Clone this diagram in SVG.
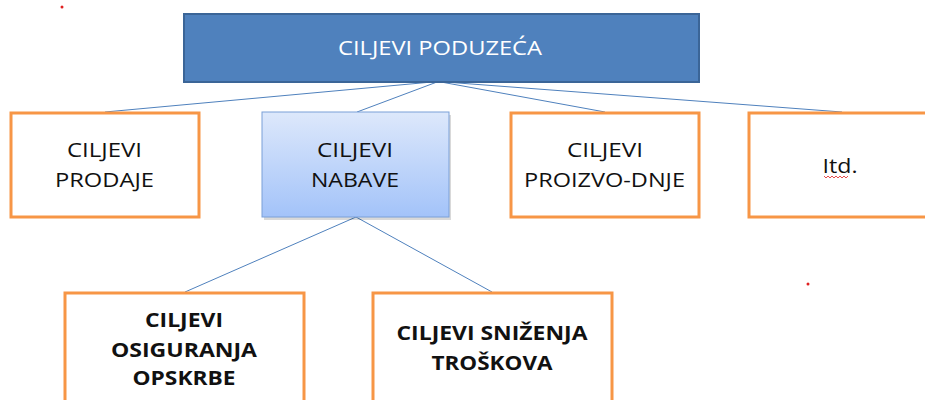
<svg xmlns="http://www.w3.org/2000/svg" width="925" height="400" viewBox="0 0 925 400">
<style>
.t{font-family:"Open Sans","Liberation Sans",sans-serif;font-size:20px;fill:#111;text-anchor:middle}
.b{font-weight:bold}
.w{fill:#fff}
.ob{fill:#fff;stroke:#f79646;stroke-width:3}
.c{stroke:#4f81bd;stroke-width:1;fill:none}
</style>
<defs>
<linearGradient id="g" x1="0" y1="0" x2="0" y2="1">
<stop offset="0" stop-color="#dde8fb"/>
<stop offset="1" stop-color="#a3c3f9"/>
</linearGradient>
</defs>
<rect width="925" height="400" fill="#fff"/>
<g id="connectors">
<line class="c" x1="432" y1="82" x2="105" y2="112"/>
<line class="c" x1="437" y1="82" x2="357" y2="112"/>
<line class="c" x1="441" y1="82" x2="605" y2="112"/>
<line class="c" x1="445" y1="82" x2="842" y2="112"/>
<line class="c" x1="356" y1="217" x2="185" y2="292"/>
<line class="c" x1="356" y1="217" x2="492" y2="292"/>
</g>
<g id="top">
<rect x="184" y="14" width="515" height="68" fill="#4f81bd" stroke="#3b6597" stroke-width="2"/>
<text class="t w" x="440" y="55" textLength="204" lengthAdjust="spacingAndGlyphs">CILJEVI PODUZEĆA</text>
</g>
<g id="prodaje">
<rect class="ob" x="11" y="113" width="188" height="104"/>
<text class="t" x="104.5" y="157" textLength="75" lengthAdjust="spacingAndGlyphs">CILJEVI</text>
<text class="t" x="104.5" y="187" textLength="99" lengthAdjust="spacingAndGlyphs">PRODAJE</text>
</g>
<g id="nabave">
<rect x="264" y="115" width="187" height="105" fill="#000" opacity="0.15"/>
<rect x="262" y="112" width="187" height="105" fill="url(#g)" stroke="#7aa0d8" stroke-width="1"/>
<text class="t" x="355" y="157" textLength="76" lengthAdjust="spacingAndGlyphs">CILJEVI</text>
<text class="t" x="355" y="187" textLength="88" lengthAdjust="spacingAndGlyphs">NABAVE</text>
</g>
<g id="proizvodnje">
<rect class="ob" x="511" y="113" width="188" height="104"/>
<text class="t" x="605" y="157" textLength="76" lengthAdjust="spacingAndGlyphs">CILJEVI</text>
<text class="t" x="604.5" y="187" textLength="161" lengthAdjust="spacingAndGlyphs">PROIZVO-DNJE</text>
</g>
<g id="itd">
<rect class="ob" x="749" y="113" width="190" height="104"/>
<text class="t" x="840" y="173" textLength="35" lengthAdjust="spacingAndGlyphs">Itd.</text>
<path d="M824 176 l2 2 l2 -2 l2 2 l2 -2 l2 2 l2 -2 l2 2 l2 -2 l2 2 l2 -2 l2 2 l2 -2" fill="none" stroke="#e02020" stroke-width="0.8"/>
</g>
<g id="osiguranja">
<rect class="ob" x="65" y="293" width="239" height="120"/>
<text class="t b" x="184" y="327" textLength="78" lengthAdjust="spacingAndGlyphs">CILJEVI</text>
<text class="t b" x="184" y="357" textLength="146" lengthAdjust="spacingAndGlyphs">OSIGURANJA</text>
<text class="t b" x="184" y="385" textLength="103" lengthAdjust="spacingAndGlyphs">OPSKRBE</text>
</g>
<g id="troskova">
<rect class="ob" x="373" y="293" width="239" height="120"/>
<text class="t b" x="492" y="340" textLength="191" lengthAdjust="spacingAndGlyphs">CILJEVI SNIŽENJA</text>
<text class="t b" x="492" y="370" textLength="121" lengthAdjust="spacingAndGlyphs">TROŠKOVA</text>
</g>
<circle cx="62" cy="7" r="1.5" fill="#e02020"/>
<circle cx="808" cy="284" r="1.5" fill="#e02020"/>
</svg>
